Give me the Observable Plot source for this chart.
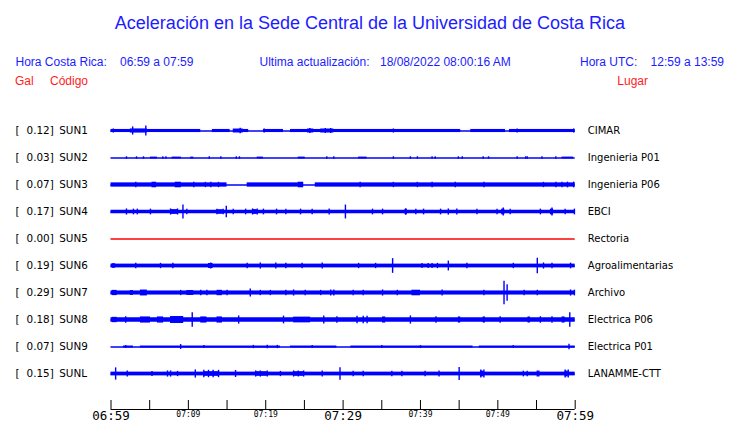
<!DOCTYPE html>
<html><head><meta charset="utf-8">
<script src="https://cdn.jsdelivr.net/npm/d3@7"></script>
<script src="https://cdn.jsdelivr.net/npm/@observablehq/plot@0.6"></script>
<style>
body{margin:0;background:#fff;}
#wrap{position:relative;width:740px;height:423px;overflow:hidden;font-family:"Liberation Sans",Arial,sans-serif;}
#wrap svg{position:absolute;left:0;}
.t{position:absolute;white-space:pre;line-height:1;}
.b{color:#1c1cff;font-size:12px;}
.r{color:#ff1c1c;font-size:12px;}
#title{left:0;width:740px;text-align:center;top:13.8px;font-size:18px;color:#1c1cff;}
</style></head>
<body><div id="wrap"></div>
<script>
// ---------- data ----------
const codes  = ["SUN1","SUN2","SUN3","SUN4","SUN5","SUN6","SUN7","SUN8","SUN9","SUNL"];
const maxGal = [0.12, 0.03, 0.07, 0.17, 0.00, 0.19, 0.29, 0.18, 0.07, 0.15];
const places = ["CIMAR","Ingenieria P01","Ingenieria P06","EBCI","Rectoria","Agroalimentarias","Archivo","Electrica P06","Electrica P01","LANAMME-CTT"];
const tickMinutes = [0,5,10,15,20,25,30,35,40,45,50,55,60];
const tickLabels  = ["06:59","","07:09","","07:19","","07:29","","07:39","","07:49","","07:59"];
const majorLabels = ["06:59","07:29","07:59"];

// envelope segments [startMin, endMin, halfAmplitude gal]
const seg_SUN1 = [[0,11.6,0.038],[13.1,15.4,0.038],[16.4,17.8,0.038],[19.7,22.3,0.038],[23.2,45.2,0.038],[46.5,51.0,0.038],[51.5,60,0.038],
  [2.5,4.7,0.05],[15.8,17.1,0.048],[25.4,26.2,0.048],[27.1,28.8,0.048]];
const seg_SUN2 = [[5.1,6.0,0.022],[7.9,9.1,0.022],[10.3,10.7,0.022],[18.9,19.7,0.022],[24.2,25.1,0.022],[32.0,33.1,0.022],[58.3,59.8,0.022]];
const seg_SUN3 = [[0,15.0,0.052],[17.6,24.9,0.052],[26.4,60,0.052],[5.3,5.9,0.068],[8.3,9.1,0.068],[24.2,24.9,0.068]];
const seg_SUN4 = [[0,60,0.043],[7.7,8.6,0.058],[13.7,14.5,0.055],[18.3,18.9,0.058],[38.0,38.3,0.065],[50.5,50.9,0.07],[56.8,57.2,0.07]];
const seg_SUN5 = [];
const seg_SUN6 = [[0,60,0.046],[0.16,0.6,0.056],[12.6,13.2,0.06]];
const seg_SUN7 = [[0,60,0.05],[0.16,0.8,0.064],[2.5,2.9,0.06],[3.8,4.7,0.072],[9.8,10.7,0.06],[13.7,14.4,0.066],[38.9,40.0,0.068]];
const seg_SUN8 = [[0,60,0.055],[0.16,0.8,0.065],[3.8,5.1,0.075],[6.0,6.8,0.075],[7.7,9.4,0.085],[11.6,12.4,0.075],[13.7,14.4,0.075],
  [23.6,25.8,0.07],[35.1,35.5,0.075],[44.9,45.2,0.075],[48.1,48.4,0.075],[53.9,54.2,0.075],[58.3,58.7,0.075]];
const seg_SUN9 = [[1.6,2.9,0.024],[3.8,21.9,0.024],[23.2,29.2,0.024],[31.0,46.8,0.024],[47.6,60,0.024]];
const seg_SUNL = [[0,60,0.046],[12.0,13.9,0.056],[47.8,48.2,0.07],[58.7,59.1,0.07],[18.7,20.2,0.055],[23.6,24.9,0.055]];

// spikes [minute, halfAmplitude gal]
const spk_SUN1 = [[0.3,0.05],[2.8,0.1],[4.5,0.12],[16.7,0.07],[19.8,0.05],[25.7,0.06],[27.7,0.06],[28.4,0.06],[36.5,0.05],[52.5,0.05],[59.8,0.05]];
const spk_SUN2 = [[2.0,0.03],[3.3,0.03],[4.2,0.03],[6.7,0.03],[7.1,0.03],[12.7,0.03],[14.2,0.03],[16.2,0.03],[16.6,0.03],[27.9,0.03],[28.8,0.03],
  [36.5,0.03],[38.7,0.03],[39.6,0.03],[41.5,0.03],[41.9,0.03],[44.9,0.03],[45.4,0.03],[48.1,0.03],[48.8,0.03],[52.5,0.03],[53.6,0.03],[53.8,0.03],[55.7,0.03],[57.5,0.03]];
const spk_SUN3 = [[3.2,0.07],[10.7,0.07],[12.2,0.065],[12.9,0.065],[13.9,0.065],[32.2,0.07],[36.5,0.065],[39.6,0.065],[41.5,0.065],[44.5,0.07],
  [48.2,0.065],[55.9,0.065],[57.5,0.065],[58.3,0.07],[59.0,0.07],[59.8,0.07]];
const spk_SUN4 = [[2.0,0.075],[2.9,0.07],[3.4,0.07],[5.1,0.07],[7.7,0.075],[8.6,0.075],[9.3,0.17],[9.8,0.07],[13.7,0.07],[14.5,0.07],[14.9,0.14],
  [15.8,0.07],[17.4,0.07],[18.3,0.075],[18.9,0.075],[19.7,0.07],[21.4,0.07],[22.6,0.07],[24.5,0.07],[26.0,0.07],[28.2,0.075],[30.3,0.17],
  [33.8,0.07],[35.1,0.07],[38.1,0.08],[39.4,0.07],[40.4,0.07],[42.6,0.07],[43.6,0.075],[44.7,0.075],[47.3,0.07],[49.9,0.07],[50.7,0.1],
  [51.6,0.07],[55.5,0.07],[57.0,0.1],[58.7,0.07],[59.9,0.07]];
const spk_SUN5 = [];
const spk_SUN6 = [[3.2,0.065],[6.4,0.065],[8.0,0.065],[12.9,0.075],[17.6,0.065],[19.3,0.075],[21.3,0.075],[22.6,0.065],[24.7,0.065],[27.3,0.075],
  [32.0,0.065],[34.2,0.065],[36.4,0.18],[40.2,0.06],[41.0,0.06],[41.5,0.06],[42.2,0.065],[43.6,0.12],[46.0,0.065],[52.0,0.065],[55.1,0.19],
  [55.9,0.075],[57.0,0.065],[59.4,0.07]];
const spk_SUN7 = [[9.0,0.065],[11.6,0.065],[12.4,0.065],[15.0,0.065],[18.0,0.1],[19.3,0.065],[20.6,0.065],[22.6,0.065],[23.6,0.075],[25.1,0.065],
  [27.1,0.065],[28.4,0.075],[28.8,0.075],[31.3,0.07],[32.6,0.07],[35.1,0.075],[37.0,0.065],[42.8,0.075],[48.2,0.065],[50.8,0.29],[51.2,0.2],
  [53.4,0.065],[55.1,0.065],[59.4,0.075],[59.9,0.07]];
const spk_SUN8 = [[1.9,0.08],[10.5,0.18],[16.5,0.1],[22.3,0.095],[27.5,0.1],[29.2,0.08],[31.8,0.09],[32.6,0.09],[33.1,0.09],[38.7,0.1],
  [42.0,0.08],[50.3,0.08],[55.5,0.08],[57.0,0.08],[59.3,0.18]];
const spk_SUN9 = [[1.9,0.035],[9.0,0.06],[12.0,0.035],[18.4,0.04],[20.2,0.04],[21.5,0.04],[26.0,0.035],[35.0,0.035],[40.0,0.035],[52.0,0.035],[59.2,0.07]];
const spk_SUNL = [[0.6,0.15],[2.1,0.075],[5.3,0.06],[7.3,0.075],[7.7,0.075],[8.6,0.065],[10.9,0.1],[12.0,0.09],[12.6,0.09],[13.2,0.09],[13.9,0.09],
  [16.1,0.085],[18.7,0.075],[19.3,0.075],[20.2,0.075],[21.9,0.065],[23.6,0.075],[24.2,0.075],[24.9,0.075],[27.3,0.075],[29.6,0.15],[31.3,0.065],
  [32.6,0.065],[36.3,0.065],[37.6,0.065],[40.6,0.065],[42.4,0.075],[45.0,0.16],[47.8,0.1],[48.2,0.1],[53.3,0.07],[53.8,0.07],[55.1,0.075],
  [55.3,0.075],[58.7,0.1],[59.1,0.1]];

// ---------- tables ----------
const segByCode = {SUN1:seg_SUN1,SUN2:seg_SUN2,SUN3:seg_SUN3,SUN4:seg_SUN4,SUN5:seg_SUN5,SUN6:seg_SUN6,SUN7:seg_SUN7,SUN8:seg_SUN8,SUN9:seg_SUN9,SUNL:seg_SUNL};
const spkByCode = {SUN1:spk_SUN1,SUN2:spk_SUN2,SUN3:spk_SUN3,SUN4:spk_SUN4,SUN5:spk_SUN5,SUN6:spk_SUN6,SUN7:spk_SUN7,SUN8:spk_SUN8,SUN9:spk_SUN9,SUNL:spk_SUNL};
const rows = codes.map((c,i)=>({code:c, max:maxGal[i], place:places[i]}));
const segs = codes.flatMap(c => segByCode[c].map(([t0,t1,a]) => ({code:c,t0,t1,a})));
const spikes = codes.flatMap(c => spkByCode[c].map(([t,a]) => ({code:c,t,a})));
const liveRows = rows.filter(r => r.max > 0);
const deadRows = rows.filter(r => r.max === 0);

const BLUE = "#0000ff";
const txt = {fill:"#000", fontFamily:"DejaVu Sans", fontSize:10.4, fy:"code"};

const chart = Plot.plot({
  width:740, height:423,
  marginTop:116.5, marginBottom:36.5, marginLeft:110.5, marginRight:165.3,
  style:{background:"transparent", overflow:"visible"},
  x:{domain:[0,60], axis:null},
  y:{domain:[-0.33,0.33], axis:null},
  fy:{domain:codes, padding:0, axis:null},
  marks:[
    Plot.ruleY(liveRows, {y:()=>0, fy:"code", stroke:BLUE, strokeWidth:1.3}),
    Plot.ruleY(deadRows, {y:()=>0, fy:"code", stroke:"#ff0000", strokeWidth:1.4}),
    Plot.rect(segs, {x1:"t0", x2:"t1", y1:d=>-d.a, y2:d=>d.a, fy:"code", fill:BLUE}),
    Plot.ruleX(spikes, {x:"t", y1:d=>-d.a, y2:d=>d.a, fy:"code", stroke:BLUE, strokeWidth:1.4}),
    Plot.text(rows, {...txt, text:()=>"[", frameAnchor:"left", textAnchor:"start", dx:-95.5}),
    Plot.text(rows, {...txt, text:d=>d.max.toFixed(2)+"]", frameAnchor:"left", textAnchor:"end", dx:-57.2}),
    Plot.text(rows, {...txt, text:"code", frameAnchor:"left", textAnchor:"start", dx:-51.8}),
    Plot.text(rows, {...txt, fontSize:10, text:"place", frameAnchor:"right", textAnchor:"start", dx:12.6})
  ]
});
chart.style.top = "0px";

const ticks = tickMinutes.map((m,i)=>({m, label:tickLabels[i]}));
const axis = Plot.plot({
  width:740, height:25,
  marginTop:2, marginBottom:14, marginLeft:110.5, marginRight:165.3,
  style:{background:"transparent", overflow:"visible"},
  x:{domain:[0,60], axis:null},
  y:{domain:[0,1], axis:null},
  marks:[
    Plot.ruleY([0], {stroke:"#000"}),
    Plot.ruleX(ticks, {x:"m", y1:()=>0, y2:()=>1, stroke:"#000"}),
    Plot.text(ticks.filter(d=>d.label && majorLabels.includes(d.label)), {x:"m", y:()=>0, text:"label", lineAnchor:"top", dy:2,
      fontFamily:"DejaVu Sans Mono", fontSize:12.5, fill:"#000"}),
    Plot.text(ticks.filter(d=>d.label && !majorLabels.includes(d.label)), {x:"m", y:()=>0, text:"label", lineAnchor:"top", dy:2.3,
      fontFamily:"DejaVu Sans Mono", fontSize:8, fill:"#000"})
  ]
});
axis.style.top = "398px";

const wrap = document.getElementById("wrap");
wrap.appendChild(chart);
wrap.appendChild(axis);

function addText(cls, text, left, top, extra) {
  const s = document.createElement("span");
  s.className = "t " + cls;
  s.textContent = text;
  s.style.top = top + "px";
  if (left != null) s.style.left = left + "px";
  if (extra) Object.assign(s.style, extra);
  wrap.appendChild(s);
  return s;
}
const t = addText("", "Aceleración en la Sede Central de la Universidad de Costa Rica", null, 13.8);
t.id = "title";
addText("b", "Hora Costa Rica:", 15.5, 55.6);
addText("b", "06:59 a 07:59", 120, 55.6);
addText("b", "Ultima actualización:", 259.5, 55.6);
addText("b", "18/08/2022 08:00:16 AM", 380, 55.6);
addText("b", "Hora UTC:", 580, 55.6);
addText("b", "12:59 a 13:59", null, 55.6, {right:(740-724)+"px"});
addText("r", "Gal", 15, 75);
addText("r", "Código", 50, 75);
addText("r", "Lugar", null, 75, {right:(740-648)+"px"});
</script>
</body></html>
